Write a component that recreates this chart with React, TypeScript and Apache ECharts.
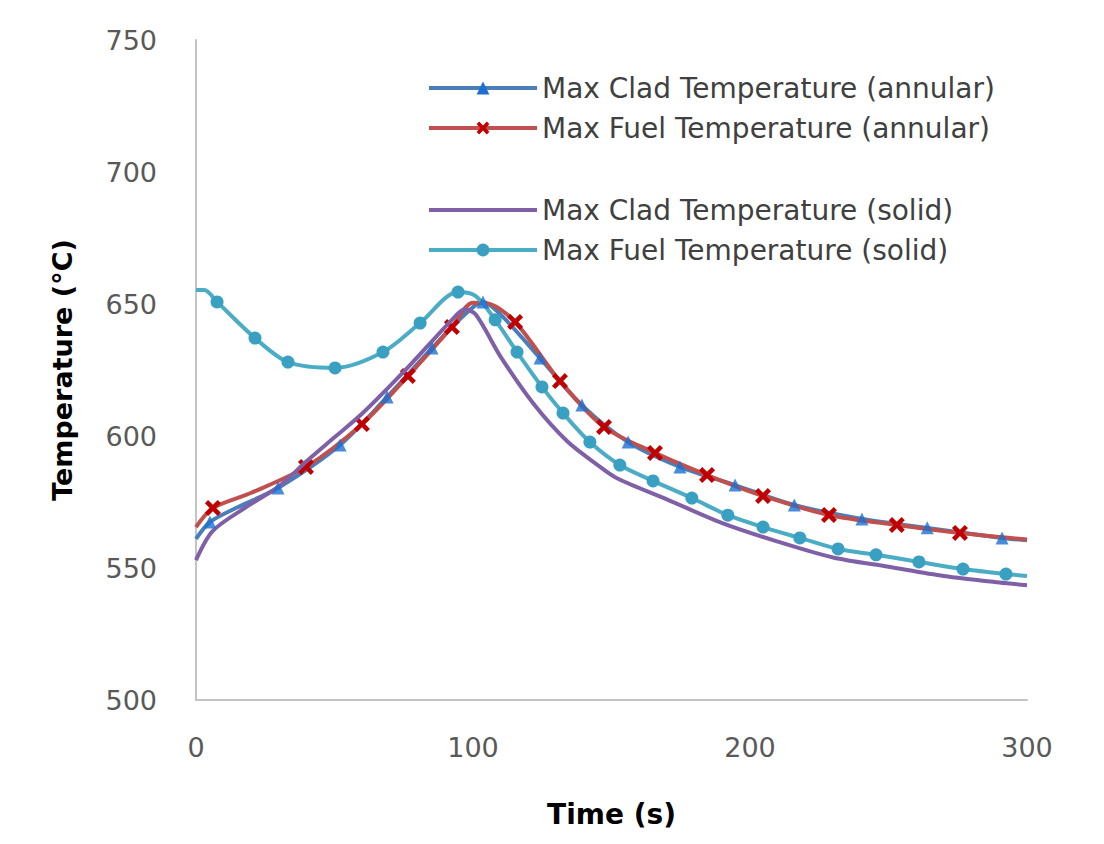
import React, { useEffect, useRef } from "react";
import * as echarts from "echarts";

// Max Clad Temperature (annular)
const blueT = [0, 5, 15, 29.6, 52, 69, 85.2, 96, 103.6, 110, 124.2, 139.3, 156, 174.7, 194.6, 216, 240.4, 264, 291, 300];
const blueV = [561, 567.4, 573, 580.3, 596.6, 614.8, 633.3, 645, 650.8, 646, 629.5, 611.7, 597.7, 588.3, 581.4, 573.9, 568.6, 565.2, 561.4, 560.5];
const blueM = [0, 1, 0, 1, 1, 1, 1, 0, 1, 0, 1, 1, 1, 1, 1, 1, 1, 1, 1, 0];

// Max Fuel Temperature (annular)
const redT = [0, 6.1, 20, 39.7, 59.9, 76.5, 92.4, 100, 106, 115.2, 131.4, 147.3, 165.7, 184.5, 204.7, 228.5, 253, 275.8, 300];
const redV = [565.5, 572.7, 578.5, 588.3, 604.5, 622.7, 641.3, 650.5, 650, 643.2, 620.8, 603.4, 593.6, 585.2, 577.3, 570.1, 566.3, 563.3, 560.8];
const redM = [0, 1, 0, 1, 1, 1, 1, 0, 0, 1, 1, 1, 1, 1, 1, 1, 1, 1, 0];

// Max Clad Temperature (solid)
const purpleT = [0, 6, 18, 30, 40, 50, 60, 76.5, 92.4, 97, 101, 110, 122, 134, 145, 152, 170, 190, 210, 230, 250, 270, 290, 300];
const purpleV = [553, 564, 573, 581, 590.5, 599.5, 608.5, 626, 644, 648, 646, 630, 612, 598, 589, 584, 576, 567, 560, 554, 550.5, 547, 544.5, 543.5];

// Max Fuel Temperature (solid)
const cyanT = [0, 3, 7.6, 21.3, 33.2, 50.2, 67.5, 80.9, 94.6, 101, 108, 115.9, 124.9, 132.5, 142.2, 153, 165, 179, 192, 204.7, 218, 231.8, 245.5, 261, 276.9, 292.4, 300];
const cyanV = [655.3, 655.3, 650.8, 637.1, 628, 625.8, 631.8, 642.8, 654.5, 653, 644, 631.8, 618.6, 608.7, 597.7, 589, 583, 576.5, 570, 565.5, 561.4, 557.2, 555, 552.3, 549.6, 547.7, 547];
const cyanM = [0, 0, 1, 1, 1, 1, 1, 1, 1, 0, 1, 1, 1, 1, 1, 1, 1, 1, 1, 1, 1, 1, 1, 1, 1, 1, 0];

const xTicks = { min: 0, max: 300, interval: 100 };
const yTicks = { min: 500, max: 750, interval: 50 };

const names = [
  "Max Clad Temperature (annular)",
  "Max Fuel Temperature (annular)",
  "Max Clad Temperature (solid)",
  "Max Fuel Temperature (solid)",
];

const CROSS = "path://M2,0 L5,3 L8,0 L10,2 L7,5 L10,8 L8,10 L5,7 L2,10 L0,8 L3,5 L0,2 Z";
const FONT = "DejaVu Sans";

function pts(t: number[], v: number[]) {
  return t.map((x, i) => [x, v[i]]);
}
function marked(t: number[], v: number[], m: number[]) {
  return t.map((x, i) => (m[i] ? [x, v[i]] : null)).filter((p) => p !== null);
}
function withMarks(t: number[], v: number[], m: number[]) {
  return t.map((x, i) => (m[i] ? { value: [x, v[i]] } : { value: [x, v[i]], symbol: "none" }));
}

export default function App() {
  const ref = useRef<HTMLDivElement>(null);
  useEffect(() => {
    if (!ref.current) return;
    const chart = echarts.init(ref.current, undefined, { renderer: "svg" });
    const legendText = { fontFamily: FONT, fontSize: 28, color: "#404040", lineHeight: 28 };
    const legendBase = {
      orient: "vertical",
      left: 422,
      itemWidth: 108,
      itemHeight: 16,
      itemGap: 12,
      lineStyle: { width: 4 },
      textStyle: legendText,
    };
    const SMOOTH = 0.3;
    const option: any = {
      animation: false,
      backgroundColor: "#ffffff",
      grid: { left: 196, right: 77, top: 40, bottom: 144 },
      legend: [
        { ...legendBase, top: 69, data: [names[0], names[1]] },
        { ...legendBase, top: 191, data: [{ name: names[2], itemStyle: { opacity: 0 } }, names[3]] },
      ],
      xAxis: {
        type: "value",
        min: xTicks.min,
        max: xTicks.max,
        interval: xTicks.interval,
        name: "Time (s)",
        nameLocation: "middle",
        nameGap: 100,
        nameTextStyle: { fontFamily: FONT, fontWeight: "bold", fontSize: 28, color: "#000000" },
        axisLine: { show: true, onZero: false, lineStyle: { color: "#c4c4c4", width: 2 } },
        axisTick: { show: false },
        splitLine: { show: false },
        axisLabel: { margin: 34, fontFamily: FONT, fontSize: 27, color: "#595959" },
      },
      yAxis: {
        type: "value",
        min: yTicks.min,
        max: yTicks.max,
        interval: yTicks.interval,
        name: "Temperature (°C)",
        nameLocation: "middle",
        nameGap: 120,
        nameTextStyle: { fontFamily: FONT, fontWeight: "bold", fontSize: 27, color: "#000000" },
        axisLine: { show: true, onZero: false, lineStyle: { color: "#c4c4c4", width: 2 } },
        axisTick: { show: false },
        splitLine: { show: false },
        axisLabel: { margin: 39, fontFamily: FONT, fontSize: 27, color: "#595959" },
      },
      series: [
        {
          name: names[0],
          type: "line",
          z: 2,
          data: pts(blueT, blueV),
          smooth: SMOOTH,
          showSymbol: false,
          symbol: "triangle",
          symbolSize: 13,
          lineStyle: { color: "#4a7ebb", width: 4 },
          itemStyle: { color: "#1c6fd1" },
        },
        {
          name: names[1],
          type: "line",
          z: 3,
          data: withMarks(redT, redV, redM),
          smooth: SMOOTH,
          symbol: CROSS,
          symbolSize: 16,
          lineStyle: { color: "#c0504d", width: 4 },
          itemStyle: { color: "#c00000" },
        },
        {
          name: names[2],
          type: "line",
          z: 4,
          data: pts(purpleT, purpleV),
          smooth: SMOOTH,
          showSymbol: false,
          symbol: "none",
          lineStyle: { color: "#7f60a6", width: 4 },
          itemStyle: { color: "#7f60a6" },
        },
        {
          name: names[3],
          type: "line",
          z: 5,
          data: withMarks(cyanT, cyanV, cyanM),
          smooth: SMOOTH,
          symbol: "circle",
          symbolSize: 13,
          lineStyle: { color: "#4bacc6", width: 4 },
          itemStyle: { color: "#3aa0c2" },
        },
        {
          name: names[0] + " markers",
          type: "scatter",
          z: 6,
          data: marked(blueT, blueV, blueM),
          symbol: "triangle",
          symbolSize: 13,
          itemStyle: { color: "#1c6fd1" },
        },
      ],
    };
    chart.setOption(option);
    return () => chart.dispose();
  }, []);
  return (
    <div
      ref={ref}
      style={{ position: "absolute", left: 0, top: 0, width: 1104, height: 844 }}
    />
  );
}
